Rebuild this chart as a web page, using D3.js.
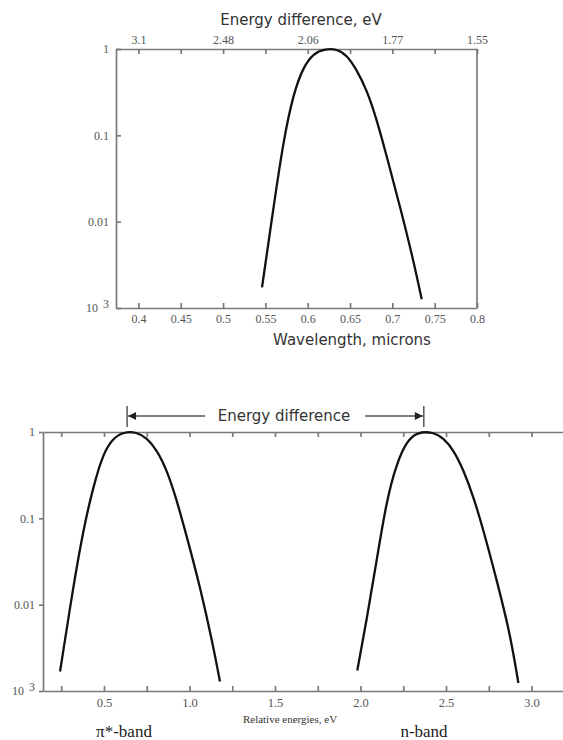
<!DOCTYPE html>
<html>
<head>
<meta charset="utf-8">
<script src="https://cdn.jsdelivr.net/npm/d3@7"></script>
<style>
  body { margin: 0; background: #fff; }
  svg { display: block; }
  .axis path, .axis line { stroke: #7a7a7a; stroke-width: 1.7; }
  .axis text { font-family: "Liberation Serif", serif; fill: #555; }
  .title { font-family: "DejaVu Sans", sans-serif; fill: #333; }
</style>
</head>
<body>
<div id="chart"></div>
<script>
// ---- data ----
// top panel: normalised intensity vs wavelength (microns)
var wavelength = [0.546, 0.5597, 0.5714, 0.5832, 0.595, 0.6068, 0.6206, 0.6344,
  0.6462, 0.658, 0.6698, 0.6817, 0.6935, 0.7091, 0.7248, 0.7347];
var topIntensity = [0.00173, 0.0149, 0.0883, 0.307, 0.624, 0.892, 1, 1,
  0.852, 0.571, 0.335, 0.151, 0.0565, 0.0149, 0.0036, 0.00126];

var waveTicks = [0.4, 0.45, 0.5, 0.55, 0.6, 0.65, 0.7, 0.75, 0.8];
var waveLabels = ["0.4", "0.45", "0.5", "0.55", "0.6", "0.65", "0.7", "0.75", "0.8"];
// energy labels on the top edge sit on every second wavelength tick
var evLabels = ["3.1", "", "2.48", "", "2.06", "", "1.77", "", "1.55"];

// bottom panel: two bands vs relative energy (eV)
var piEnergy = [0.243, 0.3205, 0.379, 0.4374, 0.4959, 0.5544, 0.6129, 0.6912,
  0.7497, 0.8082, 0.8667, 0.9251, 0.9836, 1.0614, 1.1392, 1.178];
var piIntensity = [0.00168, 0.0163, 0.0738, 0.234, 0.571, 0.852, 1, 1,
  0.852, 0.624, 0.366, 0.164, 0.0617, 0.0163, 0.00328, 0.00129];

var nEnergy = [1.981, 2.036, 2.095, 2.153, 2.212, 2.27, 2.329, 2.426,
  2.484, 2.543, 2.601, 2.66, 2.718, 2.796, 2.874, 2.923];
var nIntensity = [0.00173, 0.00668, 0.0331, 0.164, 0.437, 0.778, 1, 1,
  0.852, 0.624, 0.366, 0.179, 0.0738, 0.0194, 0.00469, 0.00124];

var energyTicks = [0.25, 0.5, 0.75, 1.0, 1.25, 1.5, 1.75, 2.0, 2.25, 2.5, 2.75, 3.0];
var energyLabels = ["", "0.5", "", "1.0", "", "1.5", "", "2.0", "", "2.5", "", "3.0"];

var logTicks = [0.001, 0.01, 0.1, 1];
var logLabels = ["10", "0.01", "0.1", "1"];

// band centres joined by the "Energy difference" arrow
var bandCentres = [0.635, 2.37];

var svgWidth = 563;
var svgHeight = 740;

var svg = d3.select("#chart")
  .append("svg")
  .attr("width", svgWidth)
  .attr("height", svgHeight);

var line = d3.line().curve(d3.curveBasis);

// helper: turn the bottom log label into "10 3"
function fixPower(g) {
  g.selectAll(".tick")
    .filter(d => d === 0.001)
    .select("text")
    .text(null)
    .call(t => t.append("tspan").text("10"))
    .call(t => t.append("tspan").attr("dx", 5).attr("dy", -4).text("3"));
}

// ================= top panel =================
var topBox = { left: 116, right: 477, top: 49, bottom: 308 };

var xWave = d3.scaleLinear()
  .domain([0.3735, 0.8])
  .range([topBox.left, topBox.right]);

var yTop = d3.scaleLog()
  .domain([0.001, 1])
  .range([topBox.bottom, topBox.top]);

svg.append("g")
  .attr("class", "axis")
  .attr("transform", `translate(0, ${topBox.bottom})`)
  .style("font-size", "12px")
  .call(d3.axisBottom(xWave)
    .tickValues(waveTicks)
    .tickFormat((d, i) => waveLabels[i])
    .tickSizeInner(-5)
    .tickSizeOuter(0)
    .tickPadding(6));

svg.append("g")
  .attr("class", "axis")
  .attr("transform", `translate(0, ${topBox.top})`)
  .style("font-size", "12px")
  .call(d3.axisTop(xWave)
    .tickValues(waveTicks)
    .tickFormat((d, i) => evLabels[i])
    .tickSizeInner(-5)
    .tickSizeOuter(0)
    .tickPadding(5));

svg.append("g")
  .attr("class", "axis")
  .attr("transform", `translate(${topBox.left}, 0)`)
  .style("font-size", "12px")
  .call(d3.axisLeft(yTop)
    .tickValues(logTicks)
    .tickFormat((d, i) => logLabels[i])
    .tickSizeInner(-5)
    .tickSizeOuter(0)
    .tickPadding(7))
  .call(fixPower);

// right border of the box
svg.append("line")
  .attr("x1", topBox.right).attr("x2", topBox.right)
  .attr("y1", topBox.top).attr("y2", topBox.bottom)
  .attr("stroke", "#7a7a7a")
  .attr("stroke-width", 1.7);

svg.append("path")
  .datum(wavelength.map((w, i) => [xWave(w), yTop(topIntensity[i])]))
  .attr("d", line)
  .attr("fill", "none")
  .attr("stroke", "#111")
  .attr("stroke-width", 2.3);

svg.append("text")
  .attr("class", "title")
  .attr("x", 301)
  .attr("y", 25)
  .attr("text-anchor", "middle")
  .style("font-size", "15px")
  .text("Energy difference, eV");

svg.append("text")
  .attr("class", "title")
  .attr("x", 352)
  .attr("y", 345)
  .attr("text-anchor", "middle")
  .style("font-size", "15px")
  .text("Wavelength, microns");

// ================= bottom panel =================
var bot = { left: 43, right: 563, top: 432, bottom: 691 };

var xEnergy = d3.scaleLinear()
  .domain([0.1433, 3.184])
  .range([bot.left, bot.right]);

var yBot = d3.scaleLog()
  .domain([0.001, 1])
  .range([bot.bottom, bot.top]);

svg.append("g")
  .attr("class", "axis")
  .attr("transform", `translate(0, ${bot.bottom})`)
  .style("font-size", "12.5px")
  .call(d3.axisBottom(xEnergy)
    .tickValues(energyTicks)
    .tickFormat((d, i) => energyLabels[i])
    .tickSizeInner(-5)
    .tickSizeOuter(0)
    .tickPadding(7));

svg.append("g")
  .attr("class", "axis")
  .attr("transform", `translate(0, ${bot.top})`)
  .call(d3.axisTop(xEnergy)
    .tickValues(energyTicks)
    .tickFormat("")
    .tickSizeInner(-5)
    .tickSizeOuter(0));

svg.append("g")
  .attr("class", "axis")
  .attr("transform", `translate(${bot.left}, 0)`)
  .style("font-size", "12px")
  .call(d3.axisLeft(yBot)
    .tickValues(logTicks)
    .tickFormat((d, i) => logLabels[i])
    .tickSizeInner(4)
    .tickSizeOuter(0)
    .tickPadding(4))
  .call(fixPower);

[[piEnergy, piIntensity], [nEnergy, nIntensity]].forEach(function(s) {
  svg.append("path")
    .datum(s[0].map((e, i) => [xEnergy(e), yBot(s[1][i])]))
    .attr("d", line)
    .attr("fill", "none")
    .attr("stroke", "#111")
    .attr("stroke-width", 2.3);
});

// "Energy difference" arrow between the band centres
var arrowY = 416;
var ax1 = xEnergy(bandCentres[0]);
var ax2 = xEnergy(bandCentres[1]);
var arrow = svg.append("g").attr("stroke", "#555").attr("stroke-width", 1.5);

bandCentres.forEach(function(c) {
  arrow.append("line")
    .attr("x1", xEnergy(c)).attr("x2", xEnergy(c))
    .attr("y1", 406).attr("y2", 427);
});
arrow.append("line")
  .attr("x1", ax1 + 1).attr("x2", 205)
  .attr("y1", arrowY).attr("y2", arrowY);
arrow.append("line")
  .attr("x1", 365).attr("x2", ax2 - 1)
  .attr("y1", arrowY).attr("y2", arrowY);

svg.append("path")
  .attr("d", `M${ax1 + 1},${arrowY} l8,-4 v8 z`)
  .attr("fill", "#222");
svg.append("path")
  .attr("d", `M${ax2 - 1},${arrowY} l-8,-4 v8 z`)
  .attr("fill", "#222");

svg.append("text")
  .attr("class", "title")
  .attr("x", 284)
  .attr("y", 421)
  .attr("text-anchor", "middle")
  .style("font-size", "15px")
  .text("Energy difference");

svg.append("text")
  .attr("x", 290)
  .attr("y", 723)
  .attr("text-anchor", "middle")
  .style("font-family", "Liberation Serif, serif")
  .style("font-size", "11px")
  .attr("fill", "#333")
  .text("Relative energies, eV");

svg.append("text")
  .attr("x", 124)
  .attr("y", 737)
  .attr("text-anchor", "middle")
  .style("font-family", "Liberation Serif, serif")
  .style("font-size", "17px")
  .attr("fill", "#222")
  .text("π*-band");

svg.append("text")
  .attr("x", 424)
  .attr("y", 737)
  .attr("text-anchor", "middle")
  .style("font-family", "Liberation Serif, serif")
  .style("font-size", "17px")
  .attr("fill", "#222")
  .text("n-band");
</script>
</body>
</html>
